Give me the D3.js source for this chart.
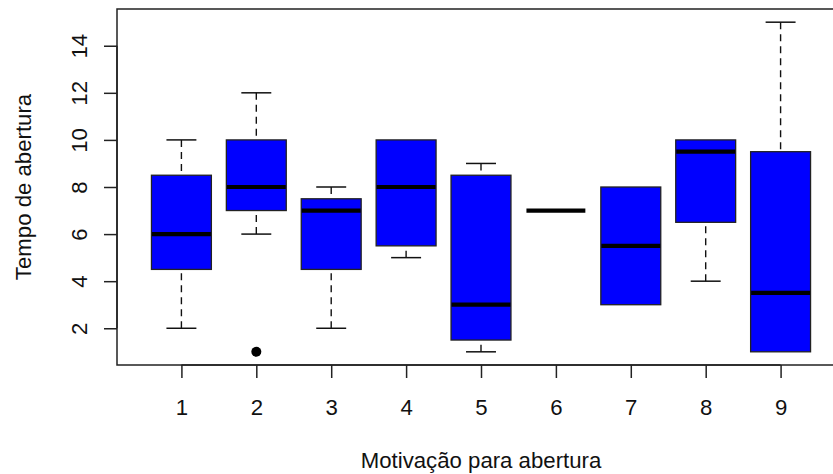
<!DOCTYPE html>
<html lang="pt">
<head>
<meta charset="utf-8">
<title>Tempo de abertura por motivação</title>
<style>
  html, body { margin: 0; padding: 0; background: #fff; }
  svg { display: block; font-family: "Liberation Sans", Arial, sans-serif; }
  text { fill: #111; }
</style>
<script src="https://d3js.org/d3.v7.min.js"></script>
</head>
<body>
<svg id="chart" width="833" height="474"></svg>
<script>
// resumo de cada caixa
var categorias = ["1", "2", "3", "4", "5", "6", "7", "8", "9"];
var minimos  = [2, 6, 2, 5, 1, 7, 3, 4, 1];
var q1       = [4.5, 7, 4.5, 5.5, 1.5, 7, 3, 6.5, 1];
var medianas = [6, 8, 7, 8, 3, 7, 5.5, 9.5, 3.5];
var q3       = [8.5, 10, 7.5, 10, 8.5, 7, 8, 10, 9.5];
var maximos  = [10, 12, 8, 10, 9, 7, 8, 10, 15];
var outliers = [{cat: "2", valor: 1}];
var yTicks = [2, 4, 6, 8, 10, 12, 14];

var svg = d3.select("#chart");
var mLeft = 117, mRight = 845, mTop = 9, mBottom = 365;
var fonte = "22.2px";

var x = d3.scaleLinear().domain([0.14, 9.86]).range([mLeft, mRight]);
var y = d3.scaleLinear().domain([0.44, 15.56]).range([mBottom, mTop]);
var passo = x(2) - x(1);
var meia = passo * 0.4, meiaCap = passo * 0.2;

var dados = categorias.map(function(c, i) {
  return {cat: c, pos: i + 1, min: minimos[i], q1: q1[i], med: medianas[i], q3: q3[i], max: maximos[i]};
});

var g = svg.append("g");

// bigodes tracejados
g.selectAll(".wlow").data(dados.filter(function(d) { return d.min < d.q1; }))
  .enter().append("line")
  .attr("x1", function(d) { return x(d.pos); }).attr("x2", function(d) { return x(d.pos); })
  .attr("y1", function(d) { return y(d.min); }).attr("y2", function(d) { return y(d.q1); })
  .attr("stroke", "#111").attr("stroke-width", 1.4).attr("stroke-dasharray", "7,5");
g.selectAll(".whigh").data(dados.filter(function(d) { return d.max > d.q3; }))
  .enter().append("line")
  .attr("x1", function(d) { return x(d.pos); }).attr("x2", function(d) { return x(d.pos); })
  .attr("y1", function(d) { return y(d.max); }).attr("y2", function(d) { return y(d.q3); })
  .attr("stroke", "#111").attr("stroke-width", 1.4).attr("stroke-dasharray", "7,5");

// traços das extremidades
g.selectAll(".capmin").data(dados.filter(function(d) { return d.min < d.q1; }))
  .enter().append("line")
  .attr("x1", function(d) { return x(d.pos) - meiaCap; }).attr("x2", function(d) { return x(d.pos) + meiaCap; })
  .attr("y1", function(d) { return y(d.min); }).attr("y2", function(d) { return y(d.min); })
  .attr("stroke", "#111").attr("stroke-width", 1.5);
g.selectAll(".capmax").data(dados.filter(function(d) { return d.max > d.q3; }))
  .enter().append("line")
  .attr("x1", function(d) { return x(d.pos) - meiaCap; }).attr("x2", function(d) { return x(d.pos) + meiaCap; })
  .attr("y1", function(d) { return y(d.max); }).attr("y2", function(d) { return y(d.max); })
  .attr("stroke", "#111").attr("stroke-width", 1.5);

// caixas
g.selectAll("rect").data(dados.filter(function(d) { return d.q3 > d.q1; }))
  .enter().append("rect")
  .attr("x", function(d) { return x(d.pos) - meia; })
  .attr("width", meia * 2)
  .attr("y", function(d) { return y(d.q3); })
  .attr("height", function(d) { return y(d.q1) - y(d.q3); })
  .attr("fill", "#0000ff").attr("stroke", "#222").attr("stroke-width", 1.3);

// medianas
g.selectAll(".med").data(dados)
  .enter().append("line")
  .attr("x1", function(d) { return x(d.pos) - meia + 0.5; }).attr("x2", function(d) { return x(d.pos) + meia - 0.5; })
  .attr("y1", function(d) { return y(d.med); }).attr("y2", function(d) { return y(d.med); })
  .attr("stroke", "#000").attr("stroke-width", 4.2);

// pontos atípicos
g.selectAll("circle").data(outliers)
  .enter().append("circle")
  .attr("cx", function(d) { return x(categorias.indexOf(d.cat) + 1); })
  .attr("cy", function(d) { return y(d.valor); })
  .attr("r", 5).attr("fill", "#000");

// moldura
svg.append("rect")
  .attr("x", mLeft).attr("y", mTop).attr("width", mRight - mLeft).attr("height", mBottom - mTop)
  .attr("fill", "none").attr("stroke", "#222").attr("stroke-width", 1.5);

// eixo y
var yAxis = svg.append("g").attr("transform", "translate(" + mLeft + ",0)")
  .call(d3.axisLeft(y).tickValues(yTicks).tickSize(13).tickPadding(0).tickFormat(d3.format("d")));
yAxis.select(".domain").attr("stroke", "#222").attr("stroke-width", 1.5)
  .attr("d", "M0," + y(yTicks[0]) + "V" + y(yTicks[yTicks.length - 1]));
yAxis.selectAll(".tick line").attr("stroke", "#222").attr("stroke-width", 1.5);
yAxis.selectAll(".tick text")
  .attr("x", 0).attr("dy", 0)
  .attr("transform", "translate(-30,0) rotate(-90)")
  .attr("text-anchor", "middle")
  .style("font-size", fonte).style("font-family", "Liberation Sans, Arial, sans-serif").attr("fill", "#111");

// eixo x
var xAxis = svg.append("g").attr("transform", "translate(0," + mBottom + ")")
  .call(d3.axisBottom(x).tickValues(d3.range(1, categorias.length + 1)).tickSize(13).tickPadding(0)
    .tickFormat(function(d) { return categorias[d - 1]; }));
xAxis.select(".domain").attr("stroke", "#222").attr("stroke-width", 1.5)
  .attr("d", "M" + x(1) + ",0H" + x(categorias.length));
xAxis.selectAll(".tick line").attr("stroke", "#222").attr("stroke-width", 1.5);
xAxis.selectAll(".tick text")
  .attr("y", 50).attr("dy", 0)
  .style("font-size", fonte).style("font-family", "Liberation Sans, Arial, sans-serif").attr("fill", "#111");

// títulos dos eixos
svg.append("text")
  .attr("transform", "translate(31," + ((mTop + mBottom) / 2) + ") rotate(-90)")
  .attr("text-anchor", "middle")
  .style("font-size", fonte)
  .text("Tempo de abertura");
svg.append("text")
  .attr("x", (mLeft + mRight) / 2).attr("y", 468)
  .attr("text-anchor", "middle")
  .style("font-size", fonte)
  .text("Motivação para abertura");
</script>
</body>
</html>
